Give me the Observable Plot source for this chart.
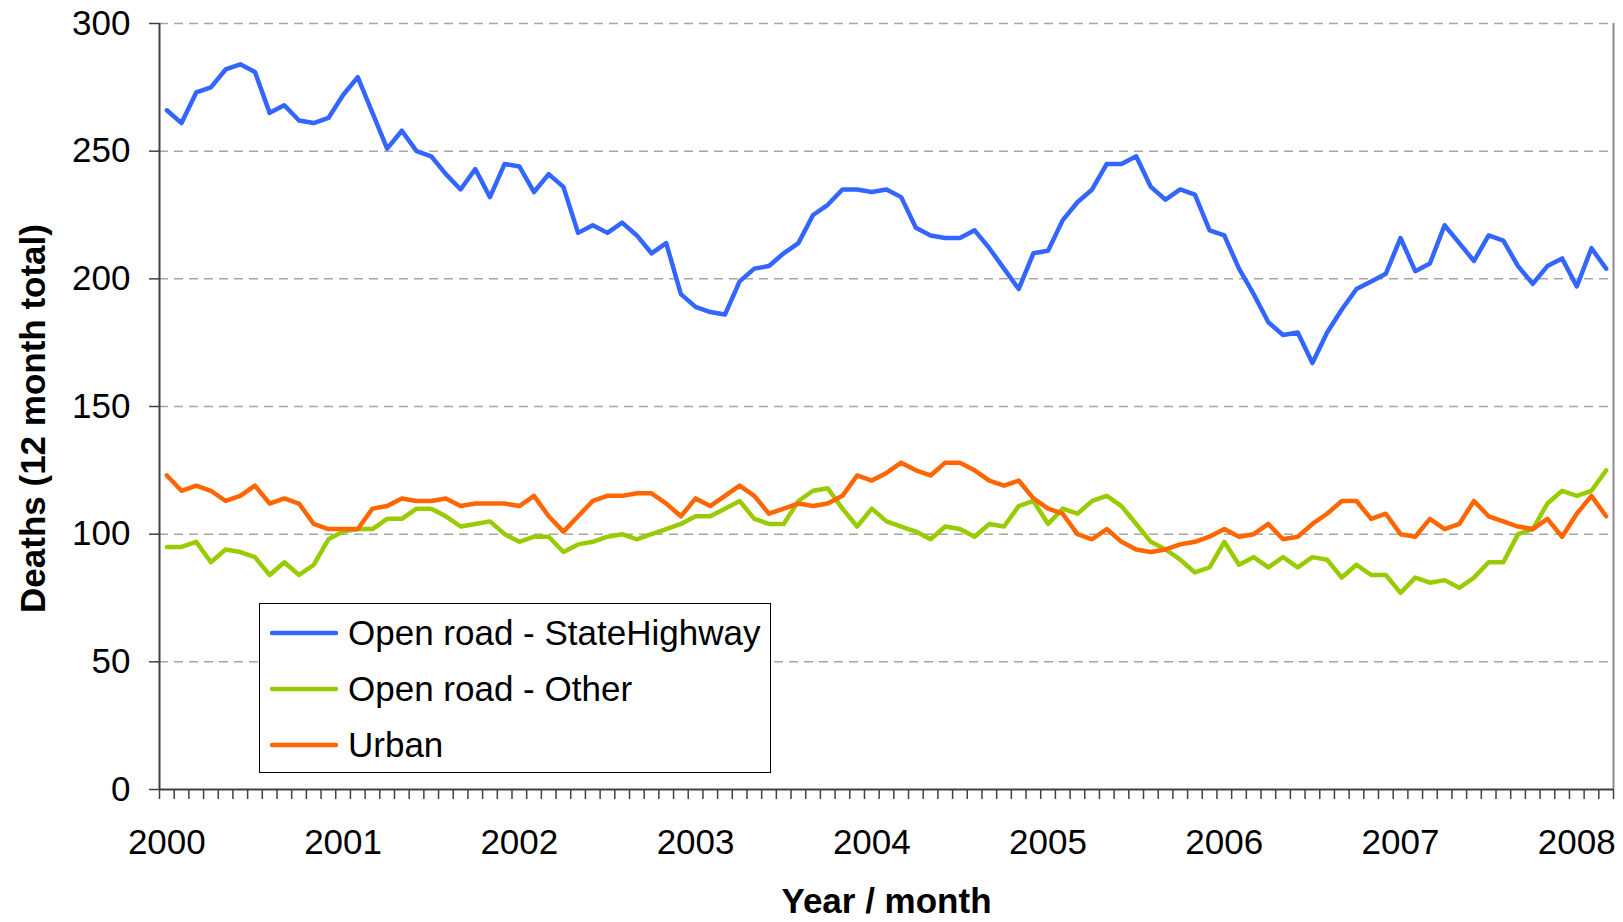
<!DOCTYPE html>
<html>
<head>
<meta charset="utf-8">
<script src="https://cdn.jsdelivr.net/npm/d3@7"></script>
<script src="https://cdn.jsdelivr.net/npm/@observablehq/plot@0.6"></script>
<style>
  html, body { margin: 0; padding: 0; background: #fff; }
  #wrap { position: relative; width: 1623px; height: 922px; font-family: "Liberation Sans", Arial, sans-serif; }
  #legend { position: absolute; left: 259px; top: 603px; width: 512px; height: 170px; box-sizing: border-box;
            border: 1.5px solid #000; background: #fff; padding-top: 1px; }
  .row { display: flex; align-items: center; height: 56px; font-size: 35px; color: #000; }
  .row svg { margin-left: 9px; margin-right: 9px; }
</style>
</head>
<body>
<div id="wrap"></div>
<script>
// Series: 12-month rolling total of deaths, monthly Jan 2000 – Mar 2008
const seriesNames = ["Open road - StateHighway", "Open road - Other", "Urban"];
const seriesColors = ["#3366ff", "#99cc00", "#ff6600"];

const stateHighway = [266,261,273,275,282,284,281,265,268,262,261,263,272,279,265,251,258,250,248,241,
  235,243,232,245,244,234,241,236,218,221,218,222,217,210,214,194,189,187,186,199,
  204,205,210,214,225,229,235,235,234,235,232,220,217,216,216,219,212,204,196,210,
  211,223,230,235,245,245,248,236,231,235,233,219,217,204,194,183,178,179,167,179,
  188,196,199,202,216,203,206,221,214,207,217,215,205,198,205,208,197,212,204];

const openRoadOther = [95,95,97,89,94,93,91,84,89,84,88,98,101,102,102,106,106,110,110,107,
  103,104,105,100,97,99,99,93,96,97,99,100,98,100,102,104,107,107,110,113,
  106,104,104,113,117,118,110,103,110,105,103,101,98,103,102,99,104,103,111,113,
  104,110,108,113,115,111,104,97,94,90,85,87,97,88,91,87,91,87,91,90,
  83,88,84,84,77,83,81,82,79,83,89,89,100,102,112,117,115,117,125];

const urban = [123,117,119,117,113,115,119,112,114,112,104,102,102,102,110,111,114,113,113,114,
  111,112,112,112,111,115,107,101,107,113,115,115,116,116,112,107,114,111,115,119,
  115,108,110,112,111,112,115,123,121,124,128,125,123,128,128,125,121,119,121,114,
  110,108,100,98,102,97,94,93,94,96,97,99,102,99,100,104,98,99,104,108,
  113,113,106,108,100,99,106,102,104,113,107,105,103,102,106,99,108,115,107];

const yearLabels = ["2000","2001","2002","2003","2004","2005","2006","2007","2008"];
const yTicks = [0, 50, 100, 150, 200, 250, 300];
const gridValues = [50, 100, 150, 200, 250, 300];

const nMonths = stateHighway.length;
const toRows = (arr, s) => arr.map((v, i) => ({i, v, s}));
const rows = [
  ...toRows(stateHighway, seriesNames[0]),
  ...toRows(openRoadOther, seriesNames[1]),
  ...toRows(urban, seriesNames[2])
];
const boundaries = d3.range(nMonths + 1).map(k => k - 0.5);
const januaryIdx = yearLabels.map((_, k) => k * 12);

const chart = Plot.plot({
  width: 1623,
  height: 922,
  marginLeft: 159,
  marginRight: 10,
  marginTop: 23,
  marginBottom: 133,
  style: { fontFamily: "'Liberation Sans', Arial, sans-serif", background: "#fff", color: "#000" },
  x: { domain: [-0.5, nMonths - 0.5] },
  y: { domain: [0, 300] },
  color: { domain: seriesNames, range: seriesColors },
  marks: [
    Plot.ruleY(gridValues, { stroke: "#a6a6a6", strokeWidth: 1.5, strokeDasharray: "9,6" }),
    Plot.ruleX([nMonths - 0.5], { stroke: "#8c8c8c", strokeWidth: 2 }),
    Plot.line(rows, { x: "i", y: "v", z: "s", stroke: "s", strokeWidth: 4.5,
                      strokeLinejoin: "round", strokeLinecap: "round" }),
    Plot.ruleX([-0.5], { stroke: "#404040", strokeWidth: 2 }),
    Plot.ruleY([0], { stroke: "#404040", strokeWidth: 2 }),
    Plot.axisY(yTicks, { tickSize: 10, tickPadding: 19, fontSize: 35, label: null, stroke: "#404040", strokeWidth: 1.5 }),
    Plot.axisX(boundaries, { tickSize: 10, tickFormat: () => "", label: null, stroke: "#404040", strokeWidth: 1.5 }),
    Plot.axisX(januaryIdx, { tickSize: 0, tickPadding: 40, fontSize: 35, label: null,
                             tickFormat: (d) => yearLabels[d / 12] }),
    Plot.text(["Deaths (12 month total)"], { frameAnchor: "left", textAnchor: "middle", lineAnchor: "middle",
                             dx: -126, dy: 12, rotate: -90,
                             fontSize: 35, fontWeight: "bold", text: d => d }),
    Plot.text(["Year / month"], { frameAnchor: "bottom", dy: 123, lineAnchor: "bottom",
                             fontSize: 35, fontWeight: "bold", text: d => d })
  ]
});

const wrap = document.getElementById("wrap");
wrap.appendChild(chart);

const legend = document.createElement("div");
legend.id = "legend";
seriesNames.forEach((name, k) => {
  const row = document.createElement("div");
  row.className = "row";
  row.innerHTML = `<svg width="70" height="8"><line x1="3" y1="4" x2="67" y2="4" stroke="${seriesColors[k]}" stroke-width="4.5" stroke-linecap="round"/></svg><span>${name}</span>`;
  legend.appendChild(row);
});
wrap.appendChild(legend);
</script>
</body>
</html>
